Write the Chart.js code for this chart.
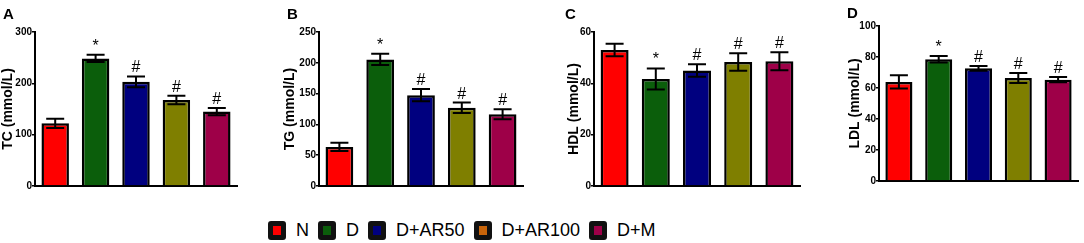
<!DOCTYPE html>
<html>
<head>
<meta charset="utf-8">
<script src="https://cdn.jsdelivr.net/npm/chart.js@4.4.1/dist/chart.umd.min.js"></script>
<style>
  body { margin: 0; background: #fff; font-family: "Liberation Sans", Arial, sans-serif; }
  #wrap { position: relative; width: 1084px; height: 243px; overflow: hidden; }
  .pan { position: absolute; top: 0; }
  .lab { position: absolute; font: bold 15px/15px "Liberation Sans", Arial, sans-serif; color: #000; }
  #legend { position: absolute; left: 268px; top: 221px; height: 19px; display: flex; align-items: center; font-size: 18px; line-height: 19px; color: #000; }
  #legend .it { display: flex; align-items: center; margin-right: 9px; }
  #legend .bx { width: 18px; height: 19px; box-sizing: border-box; border: 5px solid #111; border-radius: 3px; margin-right: 10px; }
</style>
</head>
<body>
<div id="wrap">
  <canvas id="cA" class="pan"></canvas>
  <canvas id="cB" class="pan"></canvas>
  <canvas id="cC" class="pan"></canvas>
  <canvas id="cD" class="pan"></canvas>
  <div class="lab" style="left:3px;top:6px">A</div>
  <div class="lab" style="left:287px;top:6px">B</div>
  <div class="lab" style="left:565px;top:6px">C</div>
  <div class="lab" style="left:847px;top:5px">D</div>
  <div id="legend"></div>
</div>
<script>
// groups and colours
const groups = ['N', 'D', 'D+AR50', 'D+AR100', 'D+M'];
const barClr = ['#ff0000', '#0b5e0b', '#00007f', '#7f7f00', '#9e0048'];
const legClr = ['#ff0000', '#0b5e0b', '#00007f', '#c8640a', '#9e0048'];
const marks = ['', '*', '#', '#', '#'];

// TC
const tcMean = [122, 248.5, 203, 167.5, 145];
const tcErr = [8.8, 7, 10.4, 8.4, 7];
// TG
const tgMean = [63.5, 205.5, 147.5, 127, 116.5];
const tgErr = [6.8, 9, 10, 8.5, 8];
// HDL
const hdlMean = [53, 41.7, 45, 48.3, 48.6];
const hdlErr = [2.4, 4.1, 2.4, 3.4, 3.5];
// LDL
const ldlMean = [63.9, 78.5, 72.7, 66.5, 65.4];
const ldlErr = [4.3, 2.1, 1.5, 3.2, 1.7];

// y tick labels per panel
const tcTicks = [0, 100, 200, 300];
const tgTicks = [0, 50, 100, 150, 200, 250];
const hdlTicks = [0, 20, 40, 60];
const ldlTicks = [0, 20, 40, 60, 80, 100];

const errPlug = {
  id: 'errPlug',
  afterDatasetsDraw(chart, args, opts) {
    const ctx = chart.ctx;
    const y = chart.scales.y;
    const meta = chart.getDatasetMeta(0);
    ctx.save();
    ctx.strokeStyle = '#000';
    ctx.lineWidth = 2;
    opts.mean.forEach((m, i) => {
      const x = meta.data[i].x;
      const t = y.getPixelForValue(m + opts.err[i]);
      const b = y.getPixelForValue(m - opts.err[i]);
      ctx.beginPath();
      ctx.moveTo(x, t); ctx.lineTo(x, b);
      ctx.moveTo(x - 9, t); ctx.lineTo(x + 9, t);
      ctx.moveTo(x - 9, b); ctx.lineTo(x + 9, b);
      ctx.stroke();
      if (marks[i]) {
        ctx.fillStyle = '#000';
        ctx.font = '16px "Liberation Sans", Arial, sans-serif';
        ctx.textAlign = 'center';
        ctx.textBaseline = 'alphabetic';
        ctx.fillText(marks[i], x, t - 4);
      }
    });
    ctx.restore();
  }
};

function mkPanel({ id, title, mean, err, ticks, left, axisX, right, top, bottom }) {
  const cv = document.getElementById(id);
  const w = right + 8 - left, h = bottom + 8;
  cv.width = w; cv.height = h;
  cv.style.left = left + 'px';
  const max = ticks[ticks.length - 1];
  return new Chart(cv.getContext('2d'), {
    type: 'bar',
    data: {
      labels: groups,
      datasets: [{
        data: mean,
        backgroundColor: barClr,
        borderColor: '#000',
        borderWidth: 2.5,
        borderSkipped: 'start',
        categoryPercentage: 1,
        barPercentage: 0.68
      }]
    },
    plugins: [errPlug],
    options: {
      responsive: false,
      animation: false,
      events: [],
      layout: { padding: { left: 0, right: 8, top: top, bottom: 8 } },
      plugins: {
        legend: { display: false },
        tooltip: { enabled: false },
        errPlug: { mean: mean, err: err }
      },
      scales: {
        x: {
          ticks: { display: false },
          grid: { display: false },
          border: { display: true, color: '#000', width: 2 },
          afterFit: s => { s.height = 0; }
        },
        y: {
          min: 0, max: max,
          afterBuildTicks: s => { s.ticks = ticks.map(v => ({ value: v })); },
          afterFit: s => { s.width = axisX - left; },
          ticks: { color: '#000', padding: 0, font: { family: '"Liberation Sans", Arial, sans-serif', size: 10, weight: 'bold' } },
          grid: { drawOnChartArea: false, drawTicks: true, tickLength: 3, color: '#000', lineWidth: 1.5 },
          border: { display: true, color: '#000', width: 2 },
          title: {
            display: true, text: title, color: '#000',
            padding: 0,
            font: { family: '"Liberation Sans", Arial, sans-serif', size: 14, weight: 'bold', lineHeight: 1 }
          }
        }
      }
    }
  });
}

mkPanel({ id: 'cA', title: 'TC (mmol/L)', mean: tcMean, err: tcErr, ticks: tcTicks, left: 1, axisX: 35, right: 237, top: 32, bottom: 186 });
mkPanel({ id: 'cB', title: 'TG (mmol/L)', mean: tgMean, err: tgErr, ticks: tgTicks, left: 283, axisX: 319, right: 523, top: 32, bottom: 186 });
mkPanel({ id: 'cC', title: 'HDL (mmol/L)', mean: hdlMean, err: hdlErr, ticks: hdlTicks, left: 567, axisX: 594, right: 800, top: 32, bottom: 186 });
mkPanel({ id: 'cD', title: 'LDL (mmol/L)', mean: ldlMean, err: ldlErr, ticks: ldlTicks, left: 848, axisX: 879, right: 1078, top: 26, bottom: 181 });

const lg = document.getElementById('legend');
groups.forEach((g, i) => {
  const it = document.createElement('span');
  it.className = 'it';
  it.innerHTML = '<span class="bx" style="background:' + legClr[i] + '"></span><span>' + g + '</span>';
  lg.appendChild(it);
});
</script>
</body>
</html>
